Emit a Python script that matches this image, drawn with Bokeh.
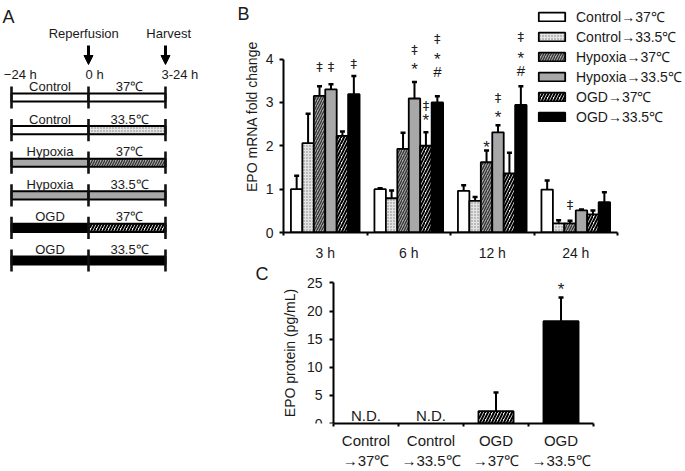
from bokeh.plotting import figure
from bokeh.layouts import row, column
from bokeh.models import (Range1d, FixedTicker, Legend, LegendItem, Whisker, LinearAxis,
                          TeeHead, Arrow, NormalHead, ColumnDataSource)
from bokeh.embed import file_html
from bokeh.resources import INLINE
from bokeh.core.properties import value

FONT = "Liberation Sans"
SYM_FONT = "DejaVu Sans"
TXT = "#1a1a1a"

# ---------------- data: panel B (EPO mRNA fold change) ----------------
timepoints = ["3 h", "6 h", "12 h", "24 h"]
series_names = ["Control→37℃", "Control→33.5℃", "Hypoxia→37℃",
                "Hypoxia→33.5℃", "OGD→37℃", "OGD→33.5℃"]

ctrl37_mean = [1.00, 1.00, 0.96, 0.99]
ctrl37_sd = [0.31, 0.02, 0.13, 0.21]
ctrl335_mean = [2.06, 0.79, 0.73, 0.21]
ctrl335_sd = [0.68, 0.18, 0.09, 0.07]
hyp37_mean = [3.15, 1.93, 1.62, 0.21]
hyp37_sd = [0.22, 0.37, 0.27, 0.06]
hyp335_mean = [3.30, 3.09, 2.31, 0.51]
hyp335_sd = [0.12, 0.38, 0.16, 0.02]
ogd37_mean = [2.23, 2.00, 1.36, 0.42]
ogd37_sd = [0.10, 0.31, 0.48, 0.09]
ogd335_mean = [3.19, 3.00, 2.94, 0.70]
ogd335_sd = [0.42, 0.14, 0.43, 0.23]

# significance marks: time index, series index, symbol, height (fold change units)
mark_time = [0, 0, 0, 1, 1, 1, 1, 1, 1, 1, 2, 2, 2, 2, 2, 2, 3]
mark_series = [2, 3, 5, 3, 3, 4, 4, 5, 5, 5, 2, 3, 3, 5, 5, 5, 2]
mark_symbol = ["‡", "‡", "‡", "‡", "*", "‡", "*", "‡", "*", "#",
               "*", "‡", "*", "‡", "*", "#", "‡"]
mark_y = [3.83, 3.83, 3.90, 4.21, 3.85, 2.93, 2.68, 4.47, 4.09, 3.71,
          2.06, 3.12, 2.74, 4.51, 4.11, 3.73, 0.65]

# ---------------- data: panel C (EPO protein) ----------------
protein_groups = ["Control\n→37℃", "Control\n→33.5℃", "OGD\n→37℃", "OGD\n→33.5℃"]
protein_mean = [None, None, 2.2, 18.2]
protein_sd = [None, None, 3.3, 4.2]
protein_style = [0, 1, 4, 5]
protein_mark = ["", "", "", "*"]
protein_mark_y = [0, 0, 0, 24.5]
nd_y = 1.35

# ---------------- data: panel A (schematic) ----------------
sch_pre_label = ["Control", "Control", "Hypoxia", "Hypoxia", "OGD", "OGD"]
sch_post_label = ["37℃", "33.5℃", "37℃", "33.5℃", "37℃", "33.5℃"]
sch_pre_style = [0, 0, 3, 3, 5, 5]
sch_post_style = [0, 1, 2, 3, 4, 5]
sch_times = [-24, 0, 24]
sch_time_labels = ["−24 h", "0 h", "3-24 h"]
sch_time_label_x = [-26.4, -0.9, 22.75]
sch_events = ["Reperfusion", "Harvest"]
sch_event_x = [0, 24]
sch_event_label_x = [-1.5, 25.0]

STYLES = [
    dict(fill_color="white", hatch_pattern=None),
    dict(fill_color="#e4e4e4", hatch_pattern="dot", hatch_color="#7a7a7a",
         hatch_scale=3, hatch_weight=1),
    dict(fill_color="#a8a8a8", hatch_pattern="right_diagonal_line", hatch_color="#333333",
         hatch_scale=5, hatch_weight=1.3),
    dict(fill_color="#a8a8a8", hatch_pattern=None),
    dict(fill_color="white", hatch_pattern="right_diagonal_line", hatch_color="black",
         hatch_scale=6, hatch_weight=2),
    dict(fill_color="black", hatch_pattern=None),
]


def clean(p):
    p.outline_line_color = None
    p.background_fill_color = "white"
    p.border_fill_color = "white"
    p.grid.visible = False


def set_letter(p, letter, offset):
    p.title.text = letter
    p.title.align = "left"
    p.title.offset = offset
    p.title.standoff = 0
    p.title.text_font = FONT
    p.title.text_font_size = "18px"
    p.title.text_font_style = "normal"
    p.title.text_color = TXT


def letter_axis(letter, y, standoff):
    # bare outer axis whose single tick label is the panel letter
    return LinearAxis(ticker=FixedTicker(ticks=[y], minor_ticks=[]),
                      major_label_overrides={y: letter},
                      axis_line_color=None, major_tick_line_color=None,
                      minor_tick_line_color=None, major_tick_out=0, major_tick_in=0,
                      minor_tick_out=0, major_label_standoff=standoff,
                      major_label_text_font=FONT, major_label_text_font_size="18px",
                      major_label_text_color=TXT)


def style_axis(ax, size="14px"):
    ax.axis_line_width = 2
    ax.axis_line_color = "black"
    ax.major_label_text_font = FONT
    ax.major_label_text_font_size = size
    ax.major_label_text_color = TXT
    ax.axis_label_text_font = FONT
    ax.axis_label_text_font_size = "14px"
    ax.axis_label_text_font_style = "normal"
    ax.axis_label_text_color = TXT


# ================= Panel A =================
pA = figure(width=227, height=471, x_range=Range1d(-27.43, 43.33),
            y_range=Range1d(11.472, -2.178), x_axis_type=None, y_axis_type=None,
            output_backend="svg", toolbar_location=None,
            min_border_left=0, min_border_right=0, min_border_bottom=0, min_border_top=26)
clean(pA)
set_letter(pA, "A", 2)
BAR_H = 0.25
rows_idx = list(range(len(sch_pre_label)))
for r in rows_idx:
    pA.hbar(y=[r], left=[sch_times[0]], right=[sch_times[1]], height=BAR_H,
            line_color="black", line_width=2, **STYLES[sch_pre_style[r]])
    pA.hbar(y=[r], left=[sch_times[1]], right=[sch_times[2]], height=BAR_H,
            line_color="black", line_width=2, **STYLES[sch_post_style[r]])
for t in sch_times:
    pA.segment(x0=[t] * len(rows_idx), x1=[t] * len(rows_idx),
               y0=[r - 0.34 for r in rows_idx], y1=[r + 0.34 for r in rows_idx],
               line_color="#111111", line_width=2.6)
pA.text(x=[(sch_times[0] + sch_times[1]) / 2] * 6, y=[r - 0.34 for r in rows_idx],
        text=sch_pre_label, text_align="center", text_baseline="middle",
        text_font=value(FONT), text_font_size="13px", text_color=TXT)
pA.text(x=[(sch_times[1] + sch_times[2]) / 2 + 0.8] * 6, y=[r - 0.34 for r in rows_idx],
        text=sch_post_label, text_align="center", text_baseline="middle",
        text_font=value(FONT), text_font_size="13px", text_color=TXT)
pA.text(x=sch_time_label_x, y=[-0.705] * 3, text=sch_time_labels, text_align="left",
        text_baseline="middle", text_font=value(FONT), text_font_size="13px", text_color=TXT)
pA.text(x=sch_event_label_x, y=[-1.96] * 2, text=sch_events, text_align="center",
        text_baseline="middle", text_font=value(FONT), text_font_size="13px", text_color=TXT)
for ex in sch_event_x:
    pA.add_layout(Arrow(x_start=ex, y_start=-1.594, x_end=ex, y_end=-1.013,
                        line_width=3, line_color="black",
                        end=NormalHead(size=9, fill_color="black", line_color="black", line_width=1)))

# ================= Panel B =================
BAR_W = 0.137
pB = figure(width=458, height=263, x_range=Range1d(0, 4.814), y_range=Range1d(0, 5.349),
            output_backend="svg", toolbar_location=None,
            min_border_left=56, min_border_right=0, min_border_top=0, min_border_bottom=29)
clean(pB)

means = [ctrl37_mean, ctrl335_mean, hyp37_mean, hyp335_mean, ogd37_mean, ogd335_mean]
sds = [ctrl37_sd, ctrl335_sd, hyp37_sd, hyp335_sd, ogd37_sd, ogd335_sd]


def bar_x(g, i):
    return g + 0.5 + (i - 2.5) * BAR_W


renderers = []
for i, (name, m, s) in enumerate(zip(series_names, means, sds)):
    xs = [bar_x(g, i) for g in range(len(timepoints))]
    src = ColumnDataSource(dict(x=xs, top=m, hi=[a + b for a, b in zip(m, s)]))
    rr = pB.vbar(x="x", top="top", width=BAR_W, source=src, line_color="black",
                 line_width=1.8, **STYLES[i])
    pB.add_layout(Whisker(source=src, base="x", lower="top", upper="hi", dimension="height",
                          line_width=2, line_color="black",
                          upper_head=TeeHead(size=5, line_width=2.5, line_color="black"),
                          lower_head=None))
    renderers.append(rr)

STAR_RAISE = 4.0  # px the asterisk glyph sits above the text middle
pxu_B = 43.75
sx = [bar_x(g, i) for g, i, s in zip(mark_time, mark_series, mark_symbol) if s == "*"]
sy = [y - STAR_RAISE / pxu_B for y, s in zip(mark_y, mark_symbol) if s == "*"]
dx = [bar_x(g, i) for g, i, s in zip(mark_time, mark_series, mark_symbol) if s == "‡"]
dy = [y for y, s in zip(mark_y, mark_symbol) if s == "‡"]
hx = [bar_x(g, i) for g, i, s in zip(mark_time, mark_series, mark_symbol) if s == "#"]
hy = [y for y, s in zip(mark_y, mark_symbol) if s == "#"]
pB.text(x=dx, y=dy, text=["‡"] * len(dx), text_align="center", text_baseline="middle",
        text_font=value(SYM_FONT), text_font_size="13px", text_color="#222222")
pB.text(x=hx, y=hy, text=["#"] * len(hx), text_align="center", text_baseline="middle",
        text_font=value(FONT), text_font_size="15px", text_color=TXT)
pB.text(x=sx, y=sy, text=["*"] * len(sx), text_align="center", text_baseline="middle",
        text_font=value(FONT), text_font_size="17px", text_color=TXT)

xa = pB.xaxis[0]
style_axis(xa)
centers = [g + 0.5 for g in range(len(timepoints))]
xa.ticker = FixedTicker(ticks=centers, minor_ticks=list(range(len(timepoints) + 1)))
xa.major_label_overrides = dict(zip(centers, timepoints))
xa.bounds = (0, len(timepoints))
xa.major_tick_line_color = None
xa.major_tick_out = 0
xa.minor_tick_out = 3
xa.minor_tick_in = 0
xa.minor_tick_line_width = 2
xa.major_label_standoff = 9

ya = pB.yaxis[0]
style_axis(ya)
ya.ticker = FixedTicker(ticks=[0, 1, 2, 3, 4], minor_ticks=[])
ya.bounds = (0, 4)
ya.major_tick_out = 4
ya.major_tick_in = 0
ya.major_tick_line_width = 2
ya.major_label_standoff = 6
ya.axis_label = "EPO mRNA fold change"
ya.axis_label_standoff = 3

pB.add_layout(letter_axis("B", 5.04, -9), "left")

legend = Legend(items=[LegendItem(label=n, renderers=[r]) for n, r in zip(series_names, renderers)],
                location=(252, 106), glyph_width=33, glyph_height=11, label_height=11,
                spacing=1, padding=0, margin=0, label_standoff=8,
                border_line_color=None, background_fill_alpha=0,
                label_text_font=FONT, label_text_font_size="14px", label_text_color=TXT)
pB.add_layout(legend)

# ================= Panel C =================
pxu_C = 5.8
pC = figure(width=458, height=208, x_range=Range1d(-0.769, 5.415),
            y_range=Range1d(0, 165 / pxu_C),
            output_backend="svg", toolbar_location=None,
            min_border_left=56, min_border_right=0, min_border_top=0, min_border_bottom=43)
clean(pC)
C_W = 0.54
for i, (m, s) in enumerate(zip(protein_mean, protein_sd)):
    if m is None:
        pC.text(x=[i + 0.5], y=[nd_y], text=["N.D."], text_align="center",
                text_baseline="alphabetic", text_font=value(FONT), text_font_size="15px",
                text_color=TXT)
        continue
    src = ColumnDataSource(dict(x=[i + 0.5], top=[m], hi=[m + s]))
    pC.vbar(x="x", top="top", width=C_W, source=src, line_color="black", line_width=1.8,
            **STYLES[protein_style[i]])
    pC.add_layout(Whisker(source=src, base="x", lower="top", upper="hi", dimension="height",
                          line_width=2, line_color="black",
                          upper_head=TeeHead(size=5, line_width=2.5, line_color="black"),
                          lower_head=None))
for i, (t, y) in enumerate(zip(protein_mark, protein_mark_y)):
    if t:
        pC.text(x=[i + 0.5], y=[y - STAR_RAISE / pxu_C], text=[t], text_align="center",
                text_baseline="middle", text_font=value(FONT), text_font_size="17px",
                text_color=TXT)

xc = pC.xaxis[0]
style_axis(xc, "15px")
c_centers = [i + 0.5 for i in range(len(protein_groups))]
xc.ticker = FixedTicker(ticks=c_centers, minor_ticks=list(range(len(protein_groups) + 1)))
xc.major_label_overrides = dict(zip(c_centers, protein_groups))
xc.bounds = (0, len(protein_groups))
xc.major_tick_line_color = None
xc.major_tick_out = 0
xc.minor_tick_out = 3
xc.minor_tick_in = 0
xc.minor_tick_line_width = 2
xc.major_label_standoff = 5

yc = pC.yaxis[0]
style_axis(yc)
yc.fixed_location = 0
yc.ticker = FixedTicker(ticks=[0, 5, 10, 15, 20, 25], minor_ticks=[])
yc.bounds = (0, 25)
yc.major_tick_out = 4
yc.major_tick_in = 0
yc.major_tick_line_width = 2
yc.major_label_standoff = 7
yc.axis_label = "EPO protein (pg/mL)"
yc.axis_label_standoff = 6

pC.add_layout(letter_axis("C", 26.55, 15), "left")

layout = row(pA, column(pB, pC))
open("out.html", "w").write(file_html(layout, INLINE))
